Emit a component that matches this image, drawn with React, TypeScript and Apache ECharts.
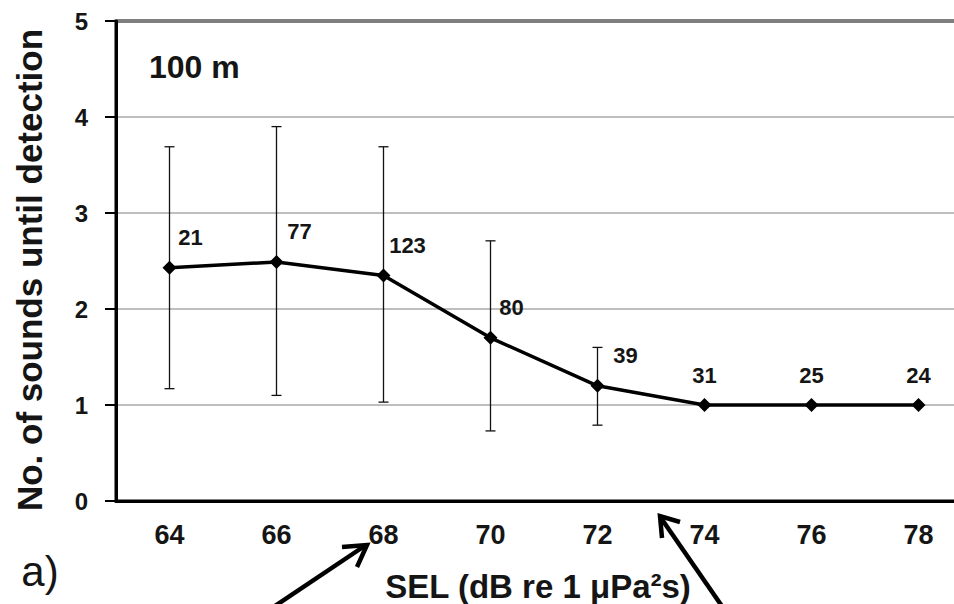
import React, { useEffect, useRef } from "react";
import * as echarts from "echarts";

const categories = ["64", "66", "68", "70", "72", "74", "76", "78"];
const meanValues = [2.43, 2.49, 2.35, 1.7, 1.2, 1.0, 1.0, 1.0];
const errLow = [1.17, 1.1, 1.03, 0.73, 0.79, null, null, null];
const errHigh = [3.69, 3.9, 3.69, 2.71, 1.6, null, null, null];
const sampleSizes = [21, 77, 123, 80, 39, 31, 25, 24];
const yTicks = [0, 1, 2, 3, 4, 5];

const FONT = "'Liberation Sans', Arial, sans-serif";
const TXT = "#151515";
const labelDx = [21, 23, 24, 21, 28, 0, 0, 0];
const CANVAS_W = 1000;

export default function App() {
  const ref = useRef<HTMLDivElement>(null);
  useEffect(() => {
    if (!ref.current) return;
    const chart = echarts.init(ref.current, null, { renderer: "svg" });

    const errData: any[] = [];
    categories.forEach((_, i) => {
      if (errLow[i] != null && errHigh[i] != null) errData.push([i, errLow[i], errHigh[i]]);
    });

    const arrow = (pts: number[][], head: number[][]) => [
      { type: "polyline", shape: { points: pts }, style: { stroke: "#000", lineWidth: 4.5, fill: "none" }, z: 100 },
      { type: "polyline", shape: { points: head }, style: { stroke: "#000", lineWidth: 4.5, fill: "none", lineJoin: "miter" }, z: 100 },
    ];

    chart.setOption({
      animation: false,
      backgroundColor: "#fff",
      grid: { left: 116, top: 21, bottom: 103, right: CANVAS_W - 972, show: true, borderColor: "#000", borderWidth: 3, backgroundColor: "transparent" },
      xAxis: {
        type: "category",
        data: categories,
        boundaryGap: true,
        axisLine: { lineStyle: { color: "#000", width: 3 } },
        axisTick: { alignWithLabel: true, length: 8, lineStyle: { color: "#000", width: 2 } },
        axisLabel: { color: TXT, fontFamily: FONT, fontWeight: "bold", fontSize: 27, margin: 20 },
        splitLine: { show: false },
      },
      yAxis: {
        type: "value",
        min: yTicks[0],
        max: yTicks[yTicks.length - 1],
        interval: 1,
        axisLine: { show: true, lineStyle: { color: "#000", width: 3 } },
        axisTick: { show: true, length: 11, lineStyle: { color: "#000", width: 2 } },
        axisLabel: { color: TXT, fontFamily: FONT, fontWeight: "bold", fontSize: 24, margin: 28 },
        splitLine: { show: true, lineStyle: { color: "#a8a8a8", width: 1.5 } },
      },
      series: [
        {
          type: "custom",
          z: 2,
          data: errData,
          encode: { x: 0, y: [1, 2] },
          renderItem: (params: any, api: any) => {
            const i = api.value(0);
            const lo = api.coord([i, api.value(1)]);
            const hi = api.coord([i, api.value(2)]);
            const w = 5;
            const st = { stroke: "#111", lineWidth: 1.3 };
            return {
              type: "group",
              children: [
                { type: "line", shape: { x1: lo[0], y1: lo[1], x2: hi[0], y2: hi[1] }, style: st },
                { type: "line", shape: { x1: lo[0] - w, y1: lo[1], x2: lo[0] + w, y2: lo[1] }, style: st },
                { type: "line", shape: { x1: hi[0] - w, y1: hi[1], x2: hi[0] + w, y2: hi[1] }, style: st },
              ],
            };
          },
        },
        {
          type: "line",
          z: 5,
          data: meanValues.map((v, i) => ({
            value: v,
            label: {
              show: true,
              position: "inside",
              offset: [labelDx[i], -30],
              formatter: String(sampleSizes[i]),
              color: TXT,
              fontFamily: FONT,
              fontWeight: "bold",
              fontSize: 22,
            },
          })),
          symbol: "diamond",
          symbolSize: 14,
          itemStyle: { color: "#000" },
          lineStyle: { color: "#000", width: 3.5 },
        },
      ],
      graphic: [
        { type: "text", left: 149, top: 51, style: { text: "100 m", fill: TXT, font: `bold 32px ${FONT}` }, z: 100 },
        {
          type: "text",
          x: 29,
          y: 270,
          rotation: Math.PI / 2,
          style: { text: "No. of sounds until detection", fill: TXT, font: `bold 35px ${FONT}`, align: "center", verticalAlign: "middle" },
          z: 100,
        },
        {
          type: "text",
          x: 538,
          y: 586,
          style: { text: "SEL (dB re 1 μPa²s)", fill: TXT, font: `bold 33px ${FONT}`, align: "center", verticalAlign: "middle" },
          z: 100,
        },
        {
          type: "text",
          x: 40,
          y: 571,
          style: { text: "a)", fill: TXT, font: `42px ${FONT}`, align: "center", verticalAlign: "middle" },
          z: 100,
        },
        ...arrow([[266, 612], [366, 545]], [[342, 547], [367, 545], [357, 567]]),
        ...arrow([[726, 612], [661, 518]], [[680, 522], [660, 516], [662, 538]]),
      ],
    });
    return () => chart.dispose();
  }, []);
  return (
    <div style={{ position: "absolute", left: 0, top: 0, width: 954, height: 604, overflow: "hidden" }}>
      <div ref={ref} style={{ width: CANVAS_W, height: 604 }} />
    </div>
  );
}
